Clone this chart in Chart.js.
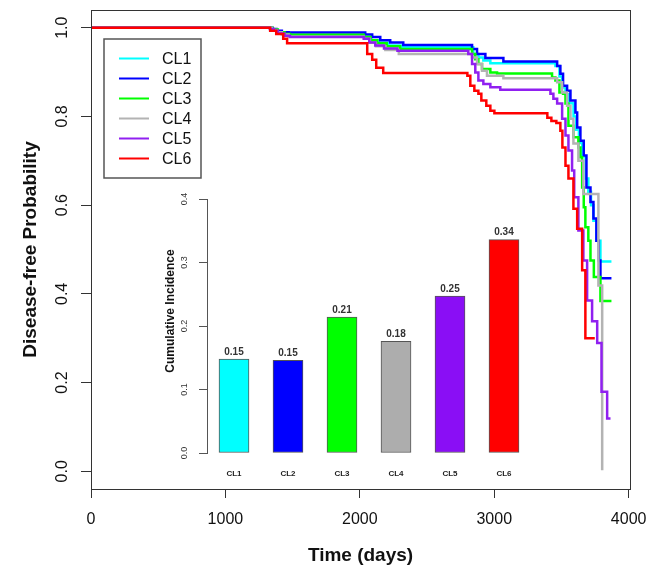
<!DOCTYPE html>
<html>
<head>
<meta charset="utf-8">
<script src="https://cdn.jsdelivr.net/npm/chart.js@4.4.1/dist/chart.umd.min.js"></script>
<style>
    html, body { margin: 0; padding: 0; background: #fff; }
    #wrap { position: relative; width: 646px; height: 568px; }
    #main { position: absolute; left: 0; top: 0; }
    #inset { position: absolute; left: 140px; top: 180px; }
</style>
</head>
<body>
<div id="wrap">
    <canvas id="main" width="646" height="568"></canvas>
    <canvas id="inset" width="400" height="310"></canvas>
</div>
<script>
// Groups and colours
const groups = ['CL1', 'CL2', 'CL3', 'CL4', 'CL5', 'CL6'];
const colors = ['#00FFFF', '#0000FF', '#00FF00', '#B3B3B3', '#9020F0', '#FF0000'];

// Disease-free survival steps (time in days, probability)
const cl1Time = [0, 1345, 1380, 1430, 1480, 2035, 2085, 2140, 2210, 2310, 2844, 2882, 2919, 2971, 3455, 3485, 3505, 3530, 3555, 3590, 3610, 3630, 3655, 3680, 3700, 3720, 3738, 3760, 3790, 3872];
const cl1Surv = [1, 0.996, 0.990, 0.985, 0.982, 0.978, 0.972, 0.966, 0.960, 0.956, 0.941, 0.933, 0.926, 0.920, 0.914, 0.890, 0.865, 0.850, 0.830, 0.800, 0.770, 0.740, 0.710, 0.660, 0.630, 0.600, 0.565, 0.520, 0.473, 0.473];

const cl2Time = [0, 1350, 1380, 1420, 1470, 2040, 2092, 2152, 2226, 2323, 2835, 2872, 2934, 3068, 3468, 3492, 3512, 3542, 3567, 3604, 3617, 3641, 3666, 3686, 3716, 3738, 3760, 3778, 3790, 3872];
const cl2Surv = [1, 0.997, 0.993, 0.990, 0.989, 0.985, 0.979, 0.972, 0.967, 0.961, 0.952, 0.941, 0.932, 0.924, 0.914, 0.896, 0.869, 0.858, 0.836, 0.809, 0.775, 0.745, 0.712, 0.640, 0.607, 0.570, 0.520, 0.475, 0.435, 0.435];

const cl3Time = [0, 1350, 1390, 1440, 1480, 2030, 2080, 2130, 2200, 2300, 2835, 2859, 2882, 2909, 2971, 3021, 3430, 3455, 3485, 3512, 3530, 3552, 3589, 3626, 3641, 3654, 3666, 3678, 3700, 3716, 3741, 3790, 3872];
const cl3Surv = [1, 0.996, 0.990, 0.986, 0.984, 0.979, 0.972, 0.965, 0.958, 0.952, 0.941, 0.929, 0.918, 0.907, 0.899, 0.897, 0.888, 0.881, 0.854, 0.851, 0.829, 0.779, 0.753, 0.730, 0.708, 0.640, 0.595, 0.550, 0.520, 0.475, 0.438, 0.384, 0.384];

const cl4Time = [0, 1345, 1380, 1420, 1470, 2030, 2075, 2120, 2190, 2290, 2835, 2872, 2909, 2946, 3068, 3468, 3505, 3542, 3567, 3589, 3626, 3663, 3775, 3803];
const cl4Surv = [1, 0.995, 0.990, 0.985, 0.980, 0.975, 0.966, 0.958, 0.950, 0.941, 0.933, 0.918, 0.903, 0.892, 0.886, 0.877, 0.854, 0.824, 0.795, 0.739, 0.700, 0.625, 0.419, 0.002];

const cl5Time = [0, 1330, 1360, 1390, 1440, 1480, 2030, 2070, 2115, 2180, 2280, 2807, 2835, 2859, 2882, 2919, 2971, 3045, 3418, 3440, 3468, 3505, 3530, 3552, 3579, 3595, 3626, 3663, 3691, 3728, 3766, 3798, 3840, 3865];
const cl5Surv = [1, 0.997, 0.993, 0.987, 0.982, 0.979, 0.975, 0.967, 0.960, 0.953, 0.948, 0.941, 0.918, 0.899, 0.881, 0.873, 0.866, 0.860, 0.851, 0.840, 0.829, 0.795, 0.757, 0.723, 0.678, 0.618, 0.543, 0.475, 0.385, 0.338, 0.289, 0.179, 0.119, 0.119];

const cl6Time = [0, 1333, 1378, 1430, 1459, 2055, 2092, 2122, 2174, 2800, 2822, 2852, 2882, 2904, 2941, 2971, 3001, 3395, 3425, 3462, 3492, 3507, 3530, 3552, 3589, 3617, 3654, 3678, 3748];
const cl6Surv = [1, 0.993, 0.986, 0.975, 0.965, 0.941, 0.928, 0.910, 0.898, 0.892, 0.869, 0.858, 0.851, 0.836, 0.824, 0.813, 0.807, 0.797, 0.790, 0.785, 0.768, 0.730, 0.689, 0.660, 0.592, 0.547, 0.453, 0.300, 0.300];

// Cumulative incidence (inset bars)
const ciValues = [0.148, 0.146, 0.214, 0.176, 0.247, 0.336];

// Tick labels
const xTicks = [0, 1000, 2000, 3000, 4000];
const yTicks = [0, 0.2, 0.4, 0.6, 0.8, 1.0];
const ciTicks = [0, 0.1, 0.2, 0.3, 0.4];

const seriesTime = [cl1Time, cl2Time, cl3Time, cl4Time, cl5Time, cl6Time];
const seriesSurv = [cl1Surv, cl2Surv, cl3Surv, cl4Surv, cl5Surv, cl6Surv];

const FONT = '"Liberation Sans", Arial, sans-serif';
const TEXT = '#111';

// box around plot, rotated y labels, legend
const mainDecor = {
    id: 'mainDecor',
    afterDraw(chart) {
        const ctx = chart.ctx;
        const area = chart.chartArea;
        const ys = chart.scales.y;
        ctx.save();
        ctx.strokeStyle = '#333';
        ctx.lineWidth = 1;
        ctx.strokeRect(area.left + 0.5, area.top + 0.5, area.right - area.left, area.bottom - area.top);

        // y tick labels, rotated like R
        ctx.fillStyle = TEXT;
        ctx.font = '16px ' + FONT;
        ctx.textAlign = 'center';
        ctx.textBaseline = 'middle';
        ys.ticks.forEach(t => {
            const y = ys.getPixelForValue(t.value);
            ctx.save();
            ctx.translate(63, y);
            ctx.rotate(-Math.PI / 2);
            ctx.fillText(t.value.toFixed(1), 0, 0);
            ctx.restore();
        });

        // legend box
        const lx = 104, ly = 39, lw = 97, lh = 139;
        ctx.strokeStyle = '#555';
        ctx.lineWidth = 1.5;
        ctx.strokeRect(lx, ly, lw, lh);
        ctx.textAlign = 'left';
        ctx.font = '16px ' + FONT;
        chart.data.datasets.forEach((ds, i) => {
            const y = 58.5 + i * 20;
            ctx.strokeStyle = ds.borderColor;
            ctx.lineWidth = 2;
            ctx.beginPath();
            ctx.moveTo(119, y);
            ctx.lineTo(149, y);
            ctx.stroke();
            ctx.fillStyle = TEXT;
            ctx.fillText(ds.label, 162, y + 1);
        });
        ctx.restore();
    }
};

new Chart(document.getElementById('main'), {
    type: 'line',
    data: {
        datasets: groups.map((g, i) => ({
            label: g,
            data: seriesTime[i].map((t, j) => ({ x: t, y: seriesSurv[i][j] })),
            borderColor: colors[i],
            borderWidth: 2.5,
            stepped: 'before',
            pointRadius: 0,
            fill: false,
            order: groups.length - i
        }))
    },
    options: {
        responsive: false,
        animation: false,
        layout: { padding: { top: 10, right: 16, left: 0, bottom: 0 } },
        plugins: {
            legend: { display: false },
            tooltip: { enabled: false }
        },
        scales: {
            x: {
                type: 'linear',
                min: 0,
                max: 4010,
                afterBuildTicks: s => { s.ticks = xTicks.map(v => ({ value: v })); },
                afterFit: s => { s.height = 79; s.paddingLeft = 0; s.paddingRight = 0; },
                grid: { drawOnChartArea: false, tickLength: 9, color: '#333' },
                border: { color: '#333' },
                ticks: {
                    color: TEXT,
                    font: { family: FONT, size: 16 },
                    padding: 12,
                    maxRotation: 0,
                    autoSkip: false,
                    callback: v => String(v)
                },
                title: {
                    display: true,
                    text: 'Time (days)',
                    color: TEXT,
                    font: { family: FONT, size: 19, weight: 'bold' },
                    padding: { top: 0, bottom: 1 }
                }
            },
            y: {
                type: 'linear',
                min: -0.04,
                max: 1.04,
                afterBuildTicks: s => { s.ticks = yTicks.map(v => ({ value: v })); },
                afterFit: s => { s.width = 91; s.paddingTop = 0; s.paddingBottom = 0; },
                grid: { drawOnChartArea: false, tickLength: 10, color: '#333' },
                border: { color: '#333' },
                ticks: { display: false },
                title: {
                    display: true,
                    text: 'Disease-free Probability',
                    color: TEXT,
                    font: { family: FONT, size: 19, weight: 'bold' },
                    padding: { top: 19, bottom: 0 }
                }
            }
        }
    },
    plugins: [mainDecor]
});

// value labels, rotated y labels and title for the inset
const insetDecor = {
    id: 'insetDecor',
    afterDraw(chart) {
        const ctx = chart.ctx;
        const ys = chart.scales.y;
        const meta = chart.getDatasetMeta(0);
        ctx.save();
        ctx.fillStyle = '#333';
        ctx.textAlign = 'center';
        ctx.font = 'bold 10px ' + FONT;
        ctx.textBaseline = 'bottom';
        meta.data.forEach((bar, i) => {
            ctx.fillText(ciValues[i].toFixed(2), bar.x, bar.y - 2);
        });

        ctx.textBaseline = 'middle';
        ctx.font = '9px ' + FONT;
        ys.ticks.forEach(t => {
            const y = ys.getPixelForValue(t.value);
            ctx.save();
            ctx.translate(45, y);
            ctx.rotate(-Math.PI / 2);
            ctx.fillText(t.value.toFixed(1), 0, 0);
            ctx.restore();
        });

        ctx.fillStyle = TEXT;
        ctx.font = 'bold 12px ' + FONT;
        ctx.save();
        ctx.translate(31, 131);
        ctx.rotate(-Math.PI / 2);
        ctx.fillText('Cumulative Incidence', 0, 0);
        ctx.restore();
        ctx.restore();
    }
};

new Chart(document.getElementById('inset'), {
    type: 'bar',
    data: {
        labels: groups,
        datasets: [{
            data: ciValues,
            backgroundColor: colors.map(c => c === '#B3B3B3' ? '#ADADAD' : (c === '#9020F0' ? '#8A0EF5' : c)),
            borderColor: '#555',
            borderWidth: 1,
            borderSkipped: false,
            barThickness: 30
        }]
    },
    options: {
        responsive: false,
        animation: false,
        layout: { padding: { top: 19, right: 9, left: 0, bottom: 0 } },
        plugins: {
            legend: { display: false },
            tooltip: { enabled: false }
        },
        scales: {
            x: {
                afterFit: s => { s.height = 37; s.paddingLeft = 0; s.paddingRight = 0; },
                grid: { display: false },
                border: { display: false },
                ticks: {
                    color: '#222',
                    font: { family: FONT, size: 8, weight: 'bold' },
                    padding: 8
                }
            },
            y: {
                min: 0,
                max: 0.4,
                afterBuildTicks: s => { s.ticks = ciTicks.map(v => ({ value: v })); },
                afterFit: s => { s.width = 67; s.paddingTop = 0; s.paddingBottom = 0; },
                grid: { drawOnChartArea: false, tickLength: 8, color: '#555' },
                border: { color: '#555' },
                ticks: { display: false }
            }
        }
    },
    plugins: [insetDecor]
});
</script>
</body>
</html>
